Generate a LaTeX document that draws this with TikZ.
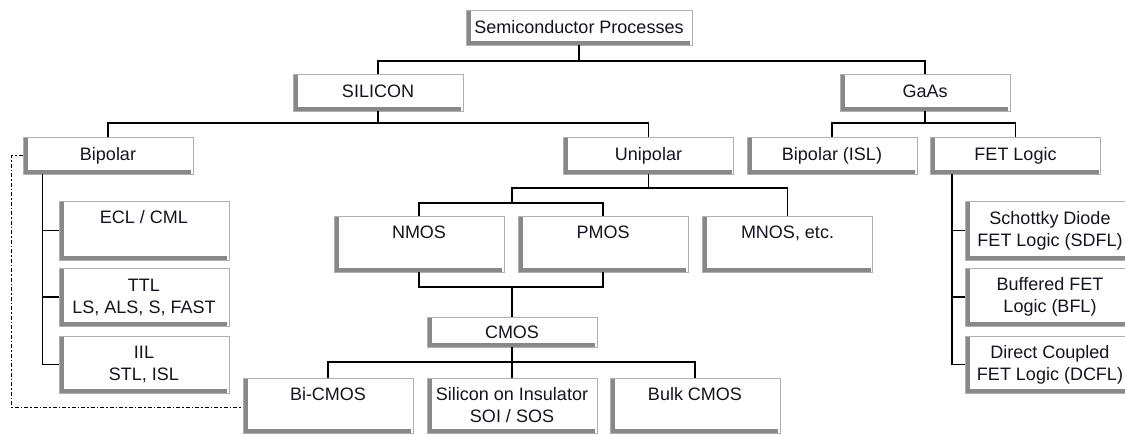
\documentclass[tikz,border=0pt]{standalone}
\usepackage{fontspec}
\setmainfont{Liberation Sans}
\definecolor{boxline}{HTML}{B0B0B0}
\definecolor{boxshade}{HTML}{888888}
\definecolor{ink}{HTML}{141420}
\begin{document}
\begin{tikzpicture}[x=1pt,y=-1pt,
  box/.style={rectangle, draw=boxline, line width=0.9, fill=white,
    inner sep=0pt, minimum width=170, align=center, text=ink,
    font=\fontsize{18}{22}\selectfont,
    path picture={
      \fill[boxshade] (path picture bounding box.south west)
        rectangle ([xshift=4.5]path picture bounding box.north west);
      \fill[boxshade] (path picture bounding box.south west)
        rectangle ([xshift=-2,yshift=4.5]path picture bounding box.south east);
    }},
  short/.style={box, text height=23, text depth=14},
  tall/.style={box, text height=22, text depth=#1},
  duo/.style={box, minimum height=#1},
  wire/.style={draw=black, line width=1.7},
  link/.style={draw=black, line width=1.5, dash pattern=on 4pt off 2pt on 1.5pt off 2pt}
]
\useasboundingbox (0,0) rectangle (1125,434);
\clip (0,0) rectangle (1125,434);

% top level
\node[box, minimum width=226, text height=23, text depth=12] (sp) at (579,27.5) {Semiconductor Processes};

% materials
\node[short] (silicon) at (378,92.5) {SILICON};
\node[short] (gaas)    at (925,92.5) {GaAs};

% second level
\node[short] (bipolar)  at (108,155.5)  {Bipolar};
\node[short] (unipolar) at (648.5,155.5) {Unipolar};
\node[short] (bisl)     at (832,155.5)  {Bipolar (ISL)};
\node[short] (fet)      at (1015.5,155.5) {FET Logic};

% silicon bipolar families
\node[tall=37]  (ecl) at (144,230.5) {ECL / CML};
\node[duo=58]   (ttl) at (144,297)   {TTL\\LS, ALS, S, FAST};
\node[duo=57]   (iil) at (144,364.5) {IIL\\STL, ISL};

% GaAs FET logic families
\node[duo=59] (sdfl) at (1050,230.5) {Schottky Diode\\FET Logic (SDFL)};
\node[duo=58] (bfl)  at (1050,297)   {Buffered FET\\Logic (BFL)};
\node[duo=57] (dcfl) at (1050,364.5) {Direct Coupled\\FET Logic (DCFL)};

% unipolar families
\node[tall=34] (nmos) at (419,244)   {NMOS};
\node[tall=34] (pmos) at (603,244)   {PMOS};
\node[tall=34] (mnos) at (787.5,244) {MNOS, etc.};

\node[box, text height=21, text depth=9] (cmos) at (512,332) {CMOS};

\node[tall=33] (bicmos) at (328,405.5) {Bi-CMOS};
\node[duo=55]  (soi)    at (512,405.5) {Silicon on Insulator\\SOI / SOS};
\node[tall=33] (bulk)   at (695,405.5) {Bulk CMOS};

% tree connectors
\coordinate (j1) at (579,61);
\draw[wire] (sp.south) -- (j1);
\draw[wire] (silicon.north) |- (j1) -| (gaas.north);

\coordinate (j2) at (378,123);
\draw[wire] (silicon.south) -- (j2);
\draw[wire] (bipolar.north) |- (j2) -| (unipolar.north);

\coordinate (j3) at (925,123);
\draw[wire] (gaas.south) -- (j3);
\draw[wire] (bisl.north) |- (j3) -| (fet.north);

\coordinate (j4) at (648.5,188);
\coordinate (j5) at (512,203);
\draw[wire] (unipolar.south) -- (j4);
\draw[wire] (j5) |- (j4) -| (mnos.north);
\draw[wire] (nmos.north) |- (j5) -| (pmos.north);

\coordinate (j6) at (512,287);
\draw[wire] (nmos.south) |- (j6) -| (pmos.south);
\draw[wire] (j6) -- (cmos.north);

\coordinate (j7) at (512,362);
\draw[wire] (cmos.south) -- (j7);
\draw[wire] (bicmos.north) |- (j7) -| (bulk.north);
\draw[wire] (j7) -- (soi.north);

% side buses
\coordinate (b0) at ([xshift=20]bipolar.south west);
\draw[wire] (b0) |- (iil.west);
\draw[wire] (ecl.west) -- (ecl.west -| b0);
\draw[wire] (ttl.west) -- (ttl.west -| b0);

\coordinate (f0) at ([xshift=22]fet.south west);
\draw[wire] (f0) |- (dcfl.west);
\draw[wire] (sdfl.west) -- (sdfl.west -| f0);
\draw[wire] (bfl.west) -- (bfl.west -| f0);

% Bi-CMOS relation back to bipolar
\draw[link] (bipolar.west) -- ++(-11,0) |- ([yshift=-2]bicmos.west);
\end{tikzpicture}
\end{document}
